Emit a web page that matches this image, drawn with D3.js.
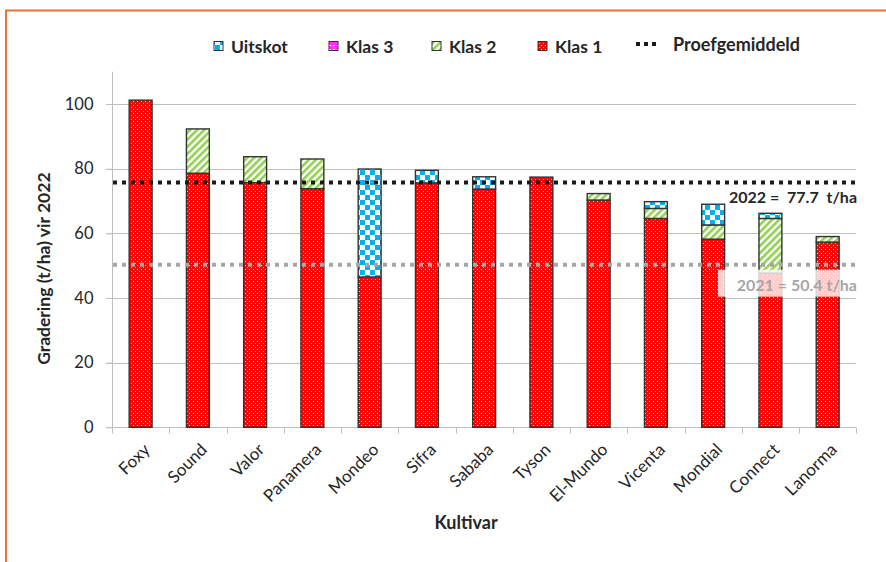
<!DOCTYPE html>
<html><head><meta charset="utf-8">
<script src="https://cdn.jsdelivr.net/npm/d3@7"></script>
<style>
html,body{margin:0;padding:0;background:#fff;}
svg{display:block;font-family:Lato,"Open Sans",sans-serif;}
</style></head>
<body>
<svg id="c" width="886" height="562"></svg>
<script>
// ---- data ----
const categories = ["Foxy","Sound","Valor","Panamera","Mondeo","Sifra","Sababa","Tyson","El-Mundo","Vicenta","Mondial","Connect","Lanorma"];
const klas1   = [101.2, 78.6, 75.7, 73.8, 46.5, 75.6, 73.7, 77.4, 70.3, 64.6, 58.2, 47.7, 57.3];
const klas2   = [0, 13.7, 8.0, 9.2, 0, 0, 0, 0, 2.0, 3.1, 4.4, 16.9, 1.7];
const klas3   = [0, 0, 0, 0, 0, 0, 0, 0, 0, 0, 0, 0, 0];
const uitskot = [0, 0, 0, 0, 33.4, 3.9, 3.8, 0, 0, 2.1, 6.4, 1.6, 0];
const seriesNames = ["Klas 1","Klas 2","Klas 3","Uitskot"];
const legendNames = ["Uitskot","Klas 3","Klas 2","Klas 1"];
const yTicks = [0, 20, 40, 60, 80, 100];
const mean2022Line = 75.7, mean2022Text = "2022 =  77.7  t/ha";
const mean2021Line = 50.3, mean2021Text = "2021 = 50.4 t/ha";
const yTitle = "Gradering (t/ha) vir 2022";
const xTitle = "Kultivar";
const meanLegend = "Proefgemiddeld";

const svg = d3.select("#c");
const defs = svg.append("defs");

// patterns
const pK1 = defs.append("pattern").attr("id","pk1").attr("patternUnits","userSpaceOnUse").attr("width",4).attr("height",4);
pK1.append("rect").attr("width",4).attr("height",4).attr("fill","#ff0000").attr("shape-rendering","crispEdges");
pK1.append("rect").attr("x",1).attr("y",1).attr("width",1).attr("height",1).attr("fill","#ffffff").attr("shape-rendering","crispEdges");
pK1.append("rect").attr("x",3).attr("y",3).attr("width",1).attr("height",1).attr("fill","#ffb0b0").attr("shape-rendering","crispEdges");

const pK2 = defs.append("pattern").attr("id","pk2").attr("patternUnits","userSpaceOnUse").attr("width",5).attr("height",5).attr("patternTransform","rotate(45)");
pK2.append("rect").attr("width",5).attr("height",5).attr("fill","#ffffff");
pK2.append("rect").attr("width",2.6).attr("height",5).attr("fill","#92d050");

const pK3 = defs.append("pattern").attr("id","pk3").attr("patternUnits","userSpaceOnUse").attr("width",4).attr("height",4);
pK3.append("rect").attr("width",4).attr("height",4).attr("fill","#ff33ff");
pK3.append("rect").attr("x",1).attr("y",1).attr("width",2).attr("height",1).attr("fill","#ffffff");

const pU = defs.append("pattern").attr("id","pu").attr("patternUnits","userSpaceOnUse").attr("width",10).attr("height",10);
pU.append("rect").attr("width",10).attr("height",10).attr("fill","#ffffff");
pU.append("rect").attr("width",5).attr("height",5).attr("fill","#00b0f0");
pU.append("rect").attr("x",5).attr("y",5).attr("width",5).attr("height",5).attr("fill","#00b0f0");

const fills = {"Klas 1":"url(#pk1)","Klas 2":"url(#pk2)","Klas 3":"url(#pk3)","Uitskot":"url(#pu)"};

// frame
svg.append("rect").attr("x",6).attr("y",10.5).attr("width",900).attr("height",600)
  .attr("fill","none").attr("stroke","#f26d36").attr("stroke-width",2);

// scales
const x = d3.scaleBand().domain(categories).range([112, 856.3]).padding(0);
const y = d3.scaleLinear().domain([0, 110]).range([427.3, 71.7]);
const barW = x.bandwidth() * 0.4;

// grid
svg.append("g").selectAll("line").data(yTicks.filter(d=>d>0)).join("line")
  .attr("x1",106).attr("x2",856.3).attr("y1",d=>Math.round(y(d))+0.5).attr("y2",d=>Math.round(y(d))+0.5)
  .attr("stroke","#bfbfbf").attr("stroke-width",1);

// y axis
const yAxis = svg.append("g").attr("transform","translate(112.5,0)")
  .call(d3.axisLeft(y).tickValues(yTicks).tickSize(6).tickPadding(13).tickFormat(d3.format("d")));
yAxis.select(".domain").attr("stroke","#bfbfbf").attr("d",`M0,${y(110)}V${y(0)}`);
yAxis.selectAll(".tick line").attr("stroke","#bfbfbf");
yAxis.selectAll(".tick text").attr("fill","#262626").style("font-size","16.5px").style("font-family","Lato");

// x axis
const xAxis = svg.append("g").attr("transform",`translate(0,${Math.round(y(0))+0.5})`)
  .call(d3.axisBottom(x).tickSize(0).tickFormat(""));
xAxis.select(".domain").attr("stroke","#bfbfbf").attr("d",`M106,0H${856.3}`);
xAxis.selectAll(".tick").remove();
const bounds = categories.map(c=>x(c)).concat([x(categories[categories.length-1])+x.bandwidth()]);
xAxis.selectAll("line.tk").data(bounds).join("line").attr("class","tk")
  .attr("x1",d=>Math.round(d)+0.5).attr("x2",d=>Math.round(d)+0.5).attr("y1",0).attr("y2",6)
  .attr("stroke","#bfbfbf");
xAxis.selectAll("text.cl").data(categories).join("text").attr("class","cl")
  .attr("transform",d=>`translate(${x(d)+x.bandwidth()/2+6},19) rotate(-45)`)
  .attr("text-anchor","end").attr("dy","0.35em")
  .attr("fill","#262626").style("font-size","17px").style("font-family","Lato")
  .text(d=>d);

// stacked bars
const rows = categories.map((c,i)=>({cat:c,"Klas 1":klas1[i],"Klas 2":klas2[i],"Klas 3":klas3[i],"Uitskot":uitskot[i]}));
const stack = d3.stack().keys(seriesNames)(rows);
svg.append("g").selectAll("g").data(stack).join("g")
  .attr("fill",d=>fills[d.key])
  .selectAll("rect").data(d=>d.filter(s=>s[1]-s[0]>0)).join("rect")
  .attr("x",d=>x(d.data.cat)+x.bandwidth()/2-barW/2)
  .attr("width",barW)
  .attr("y",d=>y(d[1]))
  .attr("height",d=>y(d[0])-y(d[1]))
  .attr("stroke","#333333").attr("stroke-width",1.4);

// mean lines
function meanLine(v,color){
  svg.append("line").attr("x1",113).attr("x2",858).attr("y1",y(v)).attr("y2",y(v))
    .attr("stroke",color).attr("stroke-width",4).attr("stroke-dasharray","4,5");
}
meanLine(mean2022Line,"#1a1a1a");
meanLine(mean2021Line,"#a6a6a6");

// annotations
svg.append("text").attr("x",857).attr("y",y(mean2022Line)+15).attr("dy","0.35em")
  .attr("text-anchor","end").attr("fill","#262626").style("font-weight","bold").style("font-size","16px")
  .style("white-space","pre").attr("xml:space","preserve").text(mean2022Text);
const t21 = svg.append("g");
t21.append("rect").attr("x",718).attr("y",y(mean2021Line)+5).attr("width",142).attr("height",27)
  .attr("fill","#ffffff").attr("opacity",0.8);
t21.append("text").attr("x",857).attr("y",y(mean2021Line)+21).attr("dy","0.35em")
  .attr("text-anchor","end").attr("fill","#a6a6a6").style("font-weight","bold").style("font-size","16px")
  .text(mean2021Text);

// axis titles
svg.append("text").attr("transform",`translate(44,${(y(0)+y(100))/2+3}) rotate(-90)`)
  .attr("text-anchor","middle").attr("dy","0.35em").attr("fill","#262626")
  .style("font-weight","bold").style("font-size","17.5px").text(yTitle);
svg.append("text").attr("x",466).attr("y",523).attr("dy","0.35em").attr("text-anchor","middle")
  .attr("fill","#262626").style("font-weight","bold").style("font-size","18px").text(xTitle);

// legend
const legX = [214, 329, 432, 538];
const lg = svg.append("g");
legendNames.forEach((n,i)=>{
  lg.append("rect").attr("x",legX[i]).attr("y",41.5).attr("width",9).attr("height",9)
    .attr("fill",fills[n]).attr("stroke","#333").attr("stroke-width",1);
  lg.append("text").attr("x",legX[i]+17).attr("y",46.5).attr("dy","0.35em")
    .attr("fill","#262626").style("font-weight","bold").style("font-size","17.5px").text(n);
});
lg.append("line").attr("x1",636).attr("x2",657).attr("y1",44).attr("y2",44)
  .attr("stroke","#1a1a1a").attr("stroke-width",4).attr("stroke-dasharray","4,4");
lg.append("text").attr("x",673).attr("y",45).attr("dy","0.35em")
  .attr("fill","#262626").style("font-weight","bold").style("font-size","18px").text(meanLegend);
</script>
</body></html>
